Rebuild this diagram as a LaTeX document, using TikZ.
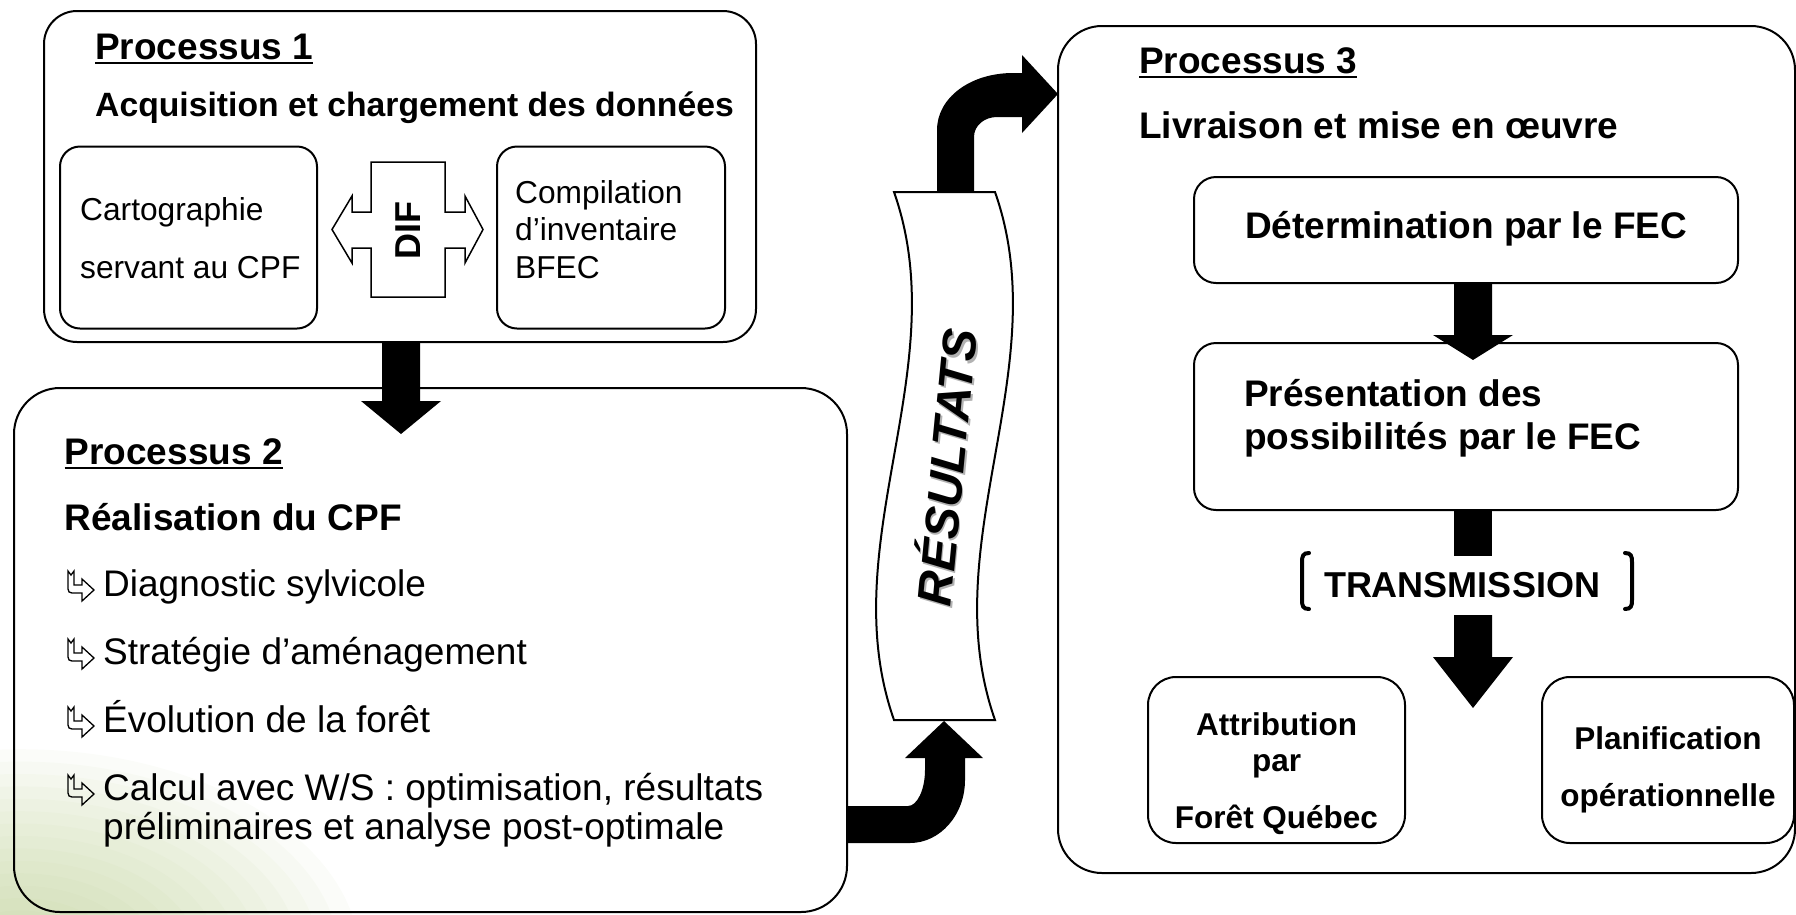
\documentclass[tikz,border=0pt]{standalone}
\usepackage{fontspec}
\setmainfont{Liberation Sans}
\definecolor{leaf}{RGB}{176,198,128}
\tikzset{
  box/.style={draw=black, line width=2pt, rounded corners=#1, inner sep=0pt, outer sep=0pt},
  box/.default=22pt,
  blk/.style={fill=black, draw=none},
  ttl/.style={anchor=base west, inner sep=0pt, font=\fontsize{37}{44}\selectfont\bfseries},
  subb/.style={anchor=base west, inner sep=0pt, font=\fontsize{37}{44}\selectfont\bfseries},
  itm/.style={anchor=base west, inner sep=0pt, font=\fontsize{37}{44}\selectfont},
  sml/.style={anchor=base west, inner sep=0pt, font=\fontsize{31.7}{38}\selectfont},
  smb/.style={anchor=base, inner sep=0pt, font=\fontsize{31.5}{38}\selectfont\bfseries},
  ul/.style={line width=2.2pt},
  brk/.style={line width=4pt, line cap=round},
  bul/.pic={\draw[line width=1.3pt, line join=miter] (1,-25) -- (4,-21) -- (7,-25) -- (7,-11) -- (15,-11) -- (15,-17) -- (27,-6) -- (15,5) -- (15,-3) -- (5,-3) .. controls (2.5,-3) and (1,-4.5) .. (1,-7) -- cycle;},
  res/.style={rotate=84.5, anchor=base, inner sep=0pt, font=\fontsize{48}{54}\selectfont\bfseries\itshape},
}
\newcommand\dnarrow[4]{\fill[blk] (#1-19,#2) -- (#1-19,#3) -- (#1-40,#3) -- (#1,#4) -- (#1+40,#3) -- (#1+19,#3) -- (#1+19,#2) -- cycle;}
\begin{document}
\begin{tikzpicture}[x=1pt,y=-1pt]
\useasboundingbox (0,0) rectangle (1796,914);
% faded background in the lower left corner
\foreach \r in {20,40,...,340}
  \fill[leaf, opacity=0.05] (20,960) ellipse ({\r} and {0.62*\r});
% boxes
\node[box=33pt, minimum width=712pt, minimum height=331pt] (p1) at (400,176.5) {};
\node[box=20pt, minimum width=257pt, minimum height=182pt] (cart) at (188.5,237.5) {};
\node[box=20pt, minimum width=228pt, minimum height=182pt] (comp) at (611,237.5) {};
\node[box=46pt, minimum width=833pt, minimum height=524pt] (p2) at (430.5,650) {};
\node[box=44pt, minimum width=737pt, minimum height=847pt] (p3) at (1426.5,449.5) {};
\node[box=22pt, minimum width=544pt, minimum height=106pt] (det) at (1466,230) {};
\node[box=22pt, minimum width=544pt, minimum height=167pt] (pres) at (1466,426.5) {};
\node[box=28pt, minimum width=257pt, minimum height=166pt] (attr) at (1276.5,760) {};
\node[box=28pt, minimum width=252pt, minimum height=166pt] (plan) at (1668,760) {};
% DIF double arrow / cross
\draw[line width=1.5pt, fill=white, line join=miter] (371,162) -- (445,162) -- (445,212) -- (465,212) -- (465,196) -- (483,229.5) -- (465,263) -- (465,248) -- (445,248) -- (445,297) -- (371,297) -- (371,248) -- (352,248) -- (352,263) -- (332,229.5) -- (352,196) -- (352,212) -- (371,212) -- cycle;
\node[rotate=90, inner sep=0pt, font=\fontsize{36}{42}\selectfont\bfseries] (dif) at (408,230) {DIF};
% block arrows
\dnarrow{401}{341}{401}{434}
\dnarrow{1473}{283}{335}{360}
\fill[blk] (1454,510) rectangle (1492,556);
\dnarrow{1473}{615}{657}{708}
% RESULTATS banner
\draw[line width=2pt, fill=white] (894,192) -- (995,192) .. controls (1057,368) and (933,544) .. (995,720) -- (894,720) .. controls (832,544) and (956,368) .. (894,192) -- cycle;
\node[res] (res) at (964,469) {\rlap{\kern-2pt\raisebox{-2pt}{\textcolor{black!30}{RÉSULTATS}}}RÉSULTATS};
% bent arrows
\fill[blk] (937,192) -- (937,130) .. controls (937,98) and (970,73) .. (1013,73) -- (1022,73) -- (1022,55) -- (1058,94) -- (1022,133) -- (1022,117) -- (997,117) .. controls (985,117) and (974,125) .. (974,137) -- (974,192) -- cycle;
\fill[blk] (847,806) -- (908,806) .. controls (917,806) and (925,790) .. (925,770) -- (925,758) -- (905,758) -- (944,721) -- (983,758) -- (965,758) -- (965,780) .. controls (965,815) and (940,843) .. (910,843) -- (847,843) -- cycle;
% Processus 1
\node[ttl] (t1) at (95,59) {Processus 1};
\draw[ul] ([yshift=-4pt]t1.base west) -- ([yshift=-4pt]t1.base east);
\node[anchor=base west, inner sep=0pt, font=\fontsize{33.7}{40}\selectfont\bfseries] (s1) at (95,116) {Acquisition et chargement des données};
\node[sml] (c1) at (80,220) {Cartographie};
\node[sml] (c2) at (80,278) {servant au CPF};
\node[sml] (r1) at (515,203) {Compilation};
\node[sml] (r2) at (515,240) {d’inventaire};
\node[sml] (r3) at (515,278) {BFEC};
% Processus 2
\node[ttl] (t2) at (64.5,464) {Processus 2};
\draw[ul] ([yshift=-4pt]t2.base west) -- ([yshift=-4pt]t2.base east);
\node[subb] (s2) at (64.5,530) {Réalisation du CPF};
\pic at (67,596) {bul};
\node[itm] (i1) at (103,596) {Diagnostic sylvicole};
\pic at (67,664) {bul};
\node[itm] (i2) at (103,664) {Stratégie d’aménagement};
\pic at (67,732) {bul};
\node[itm] (i3) at (103,732) {Évolution de la forêt};
\pic at (67,800) {bul};
\node[itm] (i4) at (103,800) {Calcul avec W/S : optimisation, résultats};
\node[itm] (i5) at (103,839) {préliminaires et analyse post-optimale};
% Processus 3
\node[ttl] (t3) at (1139,73) {Processus 3};
\draw[ul] ([yshift=-4pt]t3.base west) -- ([yshift=-4pt]t3.base east);
\node[subb] (s3) at (1139,138) {Livraison et mise en œuvre};
\node[subb, anchor=base] (dt) at (1466,238) {Détermination par le FEC};
\node[subb] (pt1) at (1244,406) {Présentation des};
\node[subb] (pt2) at (1244,449) {possibilités par le FEC};
\node[inner sep=0pt, anchor=base, font=\fontsize{36}{42}\selectfont\bfseries] (tr) at (1462,597) {TRANSMISSION};
\draw[brk] (1309,553) .. controls (1303,553) and (1302,556) .. (1302,562) -- (1302,600) .. controls (1302,606) and (1303,609) .. (1309,609);
\draw[brk] (1625,553) .. controls (1631,553) and (1632,556) .. (1632,562) -- (1632,600) .. controls (1632,606) and (1631,609) .. (1625,609);
\node[smb] (a1) at (1276.5,735) {Attribution};
\node[smb] (a2) at (1276.5,771) {par};
\node[smb] (a3) at (1276.5,828) {Forêt Québec};
\node[smb] (pl1) at (1668,749) {Planification};
\node[smb] (pl2) at (1668,806) {opérationnelle};
\end{tikzpicture}
\end{document}
